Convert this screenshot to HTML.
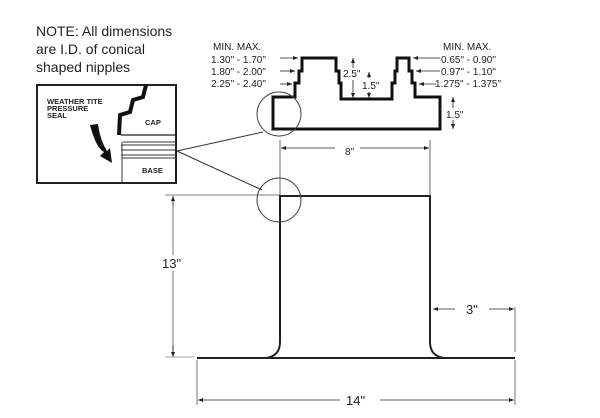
<!DOCTYPE html>
<html><head><meta charset="utf-8"><style>
html,body{margin:0;padding:0;background:#fff;}
svg{display:block;font-family:"Liberation Sans",Arial,sans-serif;}
</style></head><body>
<svg width="600" height="418" viewBox="0 0 600 418" xmlns="http://www.w3.org/2000/svg">
<defs>
<marker id="a" markerWidth="6" markerHeight="6" refX="5" refY="3" orient="auto" markerUnits="userSpaceOnUse"><path d="M0,1 L5,3 L0,5z" fill="#222"/></marker>
</defs>
<g fill="#222" font-size="14">
<text x="36" y="36">NOTE: All dimensions</text>
<text x="36" y="54">are I.D. of conical</text>
<text x="36" y="72">shaped nipples</text>
</g>
<!-- inset -->
<rect x="37" y="85" width="139" height="98" fill="none" stroke="#222" stroke-width="2"/>
<path d="M146,85 L143,97 L133,100 L130,112 L120,115 L119,135" fill="none" stroke="#111" stroke-width="4"/>
<path d="M121,135 L176,135" stroke="#222" stroke-width="1.2"/>
<path d="M123,142 L176,142 M121,145 L176,145 M121,150 L176,150 M121,155 L176,155" stroke="#333" stroke-width="1"/>
<path d="M122,142 L122,183 M122,158 L176,158" stroke="#333" stroke-width="1"/>
<path d="M90,125 Q96,148 104,152 L100,156 L112,163 L110,148 L107,151 Q100,140 98,124 Z" fill="#111"/>
<g font-size="7.5" font-weight="bold" fill="#222">
<text x="47" y="104">WEATHER TITE</text>
<text x="47" y="111">PRESSURE</text>
<text x="47" y="118">SEAL</text>
<text x="145" y="125">CAP</text>
<text x="142" y="173">BASE</text>
</g>
<path d="M177,151 L263,132 M177,151 L262,190" stroke="#333" stroke-width="1"/>
<!-- cap drawing -->
<path d="M273,97 L295,97 L295,83 L299,83 L299,71 L302,71 L302,58 L336,58 L336,71 L339,71 L339,83 L341,83 L341,99 L392,99 L392,83 L395,83 L395,71 L397,71 L397,58 L409,58 L409,71 L412,71 L412,83 L415,83 L415,97 L440,97 L440,129 L273,129 Z" fill="none" stroke="#111" stroke-width="3"/>
<circle cx="279" cy="114" r="22" fill="none" stroke="#444" stroke-width="1"/>
<g fill="#222" font-size="10">
<text x="213" y="50">MIN.  MAX.</text>
<text x="211" y="63">1.30" - 1.70"</text>
<text x="211" y="75">1.80" - 2.00"</text>
<text x="211" y="87">2.25" - 2.40"</text>
<text x="443" y="50">MIN.  MAX.</text>
<text x="441" y="63">0.65" - 0.90"</text>
<text x="441" y="75">0.97" - 1.10"</text>
<text x="435" y="87">1.275" - 1.375"</text>
<text x="343" y="77">2.5"</text>
<text x="362" y="89">1.5"</text>
<text x="446" y="118">1.5"</text>
<text x="345" y="155">8"</text>
</g>
<g stroke="#222" stroke-width="0.8" marker-end="url(#a)">
<path d="M280,58 L298,58"/><path d="M280,71 L295,71"/><path d="M280,84 L292,84"/>
<path d="M440,58 L413,58"/><path d="M440,71 L416,71"/><path d="M436,84 L419,84"/>
<path d="M353,68 L353,58"/><path d="M353,80 L353,98"/>
<path d="M369,92 L369,98"/><path d="M369,78 L369,72"/>
<path d="M453,108 L453,97"/><path d="M453,120 L453,129"/>
<path d="M335,148 L281,148"/><path d="M360,148 L429,148"/>
</g>
<path d="M280,140 L280,195 M430,140 L430,195" stroke="#444" stroke-width="0.8"/>
<!-- base -->
<path d="M165,195 L280,195 M173,197 L173,357" stroke="#555" stroke-width="0.8"/>
<path d="M173,205 L173,196" stroke="#222" stroke-width="0.8" marker-end="url(#a)"/>
<path d="M173,345 L173,357" stroke="#222" stroke-width="0.8" marker-end="url(#a)"/>
<rect x="160" y="255" width="26" height="16" fill="#fff"/>
<text x="162" y="268" font-size="13" fill="#222">13"</text>
<path d="M266,358 Q280,356 280,342 L280,196 L430,196 L430,342 Q430,356 444,358" fill="none" stroke="#222" stroke-width="2"/>
<path d="M197,358 L515,358" stroke="#222" stroke-width="2"/>
<circle cx="279" cy="200" r="22" fill="none" stroke="#444" stroke-width="1"/>
<path d="M165,357 L195,357" stroke="#888" stroke-width="0.8"/>
<path d="M197,360 L197,405 M515,360 L515,405 M515,307 L515,352" stroke="#555" stroke-width="0.8"/>
<g stroke="#222" stroke-width="0.8" marker-end="url(#a)">
<path d="M340,400 L198,400"/><path d="M380,400 L514,400"/>
<path d="M455,309 L433,309"/><path d="M489,309 L514,309"/>
</g>
<text x="346" y="405" font-size="13" fill="#222">14"</text>
<text x="466" y="314" font-size="13" fill="#222">3"</text>
</svg>
</body></html>
